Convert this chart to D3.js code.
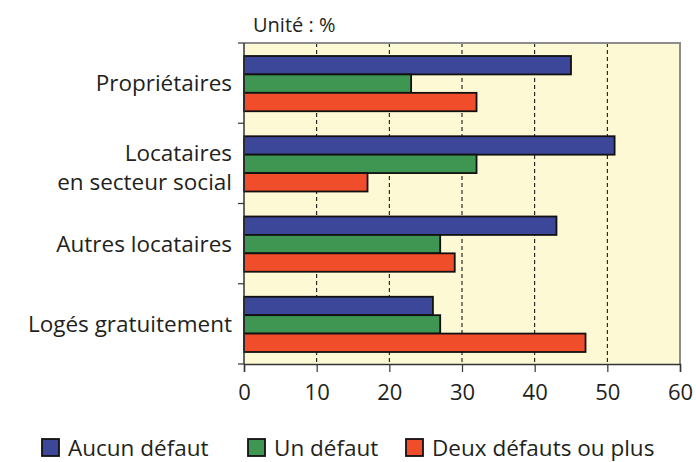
<!DOCTYPE html>
<html lang="fr">
<head>
<meta charset="UTF-8">
<title>Défauts du logement</title>
<script src="https://cdn.jsdelivr.net/npm/d3@7"></script>
<style>
	body { margin: 0; background: #fff; }
	text { font-family: "Open Sans", sans-serif; fill: #231f20; }
</style>
</head>
<body>
<script>
var categories = [["Propriétaires"], ["Locataires", "en secteur social"], ["Autres locataires"], ["Logés gratuitement"]];
var series = ["Aucun défaut", "Un défaut", "Deux défauts ou plus"];
var aucun = [45, 51, 43, 26];
var un = [23, 32, 27, 27];
var deux = [32, 17, 29, 47];
var xTicks = [0, 10, 20, 30, 40, 50, 60];
var colors = ["#3d4799", "#3f9652", "#f04e2a"];

var margin = {top: 43, left: 244, right: 16, bottom: 98};
var W = 696, H = 462;
var width = W - margin.left - margin.right;
var height = H - margin.top - margin.bottom;

var svg = d3.select('body').append('svg')
	.attr('width', W).attr('height', H);
var g = svg.append('g')
	.attr('transform', 'translate(' + margin.left + ',' + margin.top + ')');

var x = d3.scaleLinear().domain([0, 60]).range([0, width]);
var y = d3.scaleBand().domain(d3.range(categories.length)).range([0, height]);
var yi = d3.scaleBand().domain(d3.range(series.length))
	.range([13, y.bandwidth() - 12]);

g.append('rect').attr('width', width).attr('height', height).attr('fill', '#fef9d5');

// dashed grid
g.selectAll('.grid').data(xTicks.slice(1, -1)).enter().append('line')
	.attr('x1', x).attr('x2', x).attr('y1', 0).attr('y2', height)
	.attr('stroke', '#000').attr('stroke-width', 1).attr('stroke-dasharray', '4,3');

// top and right border
g.append('path').attr('d', 'M0,0H' + width + 'V' + height)
	.attr('fill', 'none').attr('stroke', '#8c8c8c').attr('stroke-width', 2);

var data = [aucun, un, deux];
categories.forEach(function (c, i) {
	g.selectAll('.bar' + i).data(data).enter().append('rect')
		.attr('x', 0)
		.attr('y', function (d, j) { return y(i) + yi(j); })
		.attr('width', function (d) { return x(d[i]); })
		.attr('height', yi.bandwidth())
		.attr('fill', function (d, j) { return colors[j]; })
		.attr('stroke', '#111').attr('stroke-width', 1.8);
});

// y axis with ticks at band edges
g.append('line').attr('x1', 0).attr('x2', 0).attr('y1', 0).attr('y2', height)
	.attr('stroke', '#333').attr('stroke-width', 1.5);
g.selectAll('.ytick').data(d3.range(categories.length + 1)).enter().append('line')
	.attr('x1', -6).attr('x2', 0)
	.attr('y1', function (d) { return d * y.step(); })
	.attr('y2', function (d) { return d * y.step(); })
	.attr('stroke', '#333').attr('stroke-width', 1.2);

var lab = g.selectAll('.ylab').data(categories).enter().append('text')
	.attr('text-anchor', 'end')
	.attr('font-size', 22.5)
	.attr('transform', function (d, i) {
		return 'translate(-12,' + (y(i) + y.bandwidth() / 2 + 8 - (d.length - 1) * 10) + ')';
	});
lab.selectAll('tspan').data(function (d) { return d; }).enter().append('tspan')
	.attr('x', 0).attr('dy', function (d, k) { return k ? 29 : 0; })
	.text(function (d) { return d; });

// x axis
var ax = g.append('g').attr('transform', 'translate(0,' + height + ')')
	.call(d3.axisBottom(x).tickValues(xTicks).tickSize(8).tickPadding(12));
ax.select('.domain').attr('stroke', '#333').attr('stroke-width', 1.5);
ax.selectAll('.tick line').attr('stroke', '#333').attr('stroke-width', 1.2);
ax.selectAll('.tick text').attr('font-size', 22)
	.attr('font-family', '"Open Sans", sans-serif').attr('fill', '#231f20');

svg.append('text').attr('x', 253).attr('y', 32).attr('font-size', 20).text('Unité : %');

// legend
var legX = [42, 248, 406];
var leg = svg.selectAll('.leg').data(series).enter().append('g')
	.attr('transform', function (d, i) { return 'translate(' + legX[i] + ',439)'; });
leg.append('rect').attr('width', 17).attr('height', 17)
	.attr('fill', function (d, i) { return colors[i]; })
	.attr('stroke', '#111').attr('stroke-width', 1.8);
leg.append('text').attr('x', 26).attr('y', 17).attr('font-size', 22.5)
	.text(function (d) { return d; });
</script>
</body>
</html>
